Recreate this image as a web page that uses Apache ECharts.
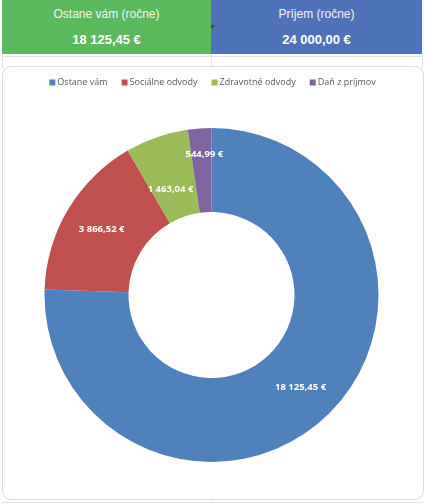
<!DOCTYPE html>
<html>
<head>
<meta charset="utf-8">
<script src="https://cdn.jsdelivr.net/npm/echarts@6/dist/echarts.min.js"></script>
<style>
html,body{margin:0;padding:0;width:425px;height:504px;background:#fff;overflow:hidden;font-family:"Liberation Sans",Arial,sans-serif;}
.box{position:absolute;top:0;height:54px;color:#fff;text-align:center;}
.box .t{position:absolute;left:0;right:0;top:7px;font-size:12px;color:#f2f2f2;}
.box .v{position:absolute;left:0;right:0;top:32px;font-size:13px;font-weight:bold;}
.line{position:absolute;background:#e3e3e3;}
#card{position:absolute;left:2px;top:66px;width:420px;height:432px;border:1px solid #dcdcdc;border-radius:9px;background:#fff;}
#chart{position:absolute;left:0;top:0;width:425px;height:504px;}
.tri{position:absolute;left:211px;top:25px;width:0;height:0;border-top:4px solid #1f6e2a;border-right:5px solid transparent;}
</style>
</head>
<body>
<div class="box" style="left:2px;width:209px;background:#5cb85c;"><div class="t">Ostane vám (ročne)</div><div class="v">18 125,45 €</div></div>
<div class="box" style="left:211px;width:211px;background:#4f73b9;"><div class="t">Príjem (ročne)</div><div class="v">24 000,00 €</div></div>
<div class="tri"></div>
<div class="line" style="left:2px;top:56px;width:421px;height:1px;"></div>
<div class="line" style="left:2px;top:54px;width:1px;height:14px;"></div>
<div class="line" style="left:211px;top:54px;width:1px;height:12px;"></div>
<div class="line" style="left:422px;top:54px;width:1px;height:14px;"></div>
<div class="line" style="left:211px;top:499px;width:1px;height:5px;"></div>
<div class="line" style="left:2px;top:502px;width:421px;height:1px;"></div>
<div id="card"></div>
<div id="chart"></div>
<script>
const categories = ['Ostane vám', 'Sociálne odvody', 'Zdravotné odvody', 'Daň z príjmov'];
const values = [18125.45, 3866.52, 1463.04, 544.99];
const colors = ['#4f81bd', '#c0504d', '#9bbb59', '#8064a2'];
const labelOffsets = [[0, 0], [0, 0], [1, 15], [2, -13]];

function fmt(v) {
  const parts = v.toFixed(2).split('.');
  const int = parts[0].replace(/\B(?=(\d{3})+(?!\d))/g, ' ');
  return int + ',' + parts[1] + ' €';
}

const chart = echarts.init(document.getElementById('chart'), null, {renderer: 'canvas'});
chart.setOption({
  animation: false,
  color: colors,
  legend: {
    top: 73,
    left: 'center',
    itemWidth: 6,
    itemHeight: 6,
    itemGap: 14,
    icon: 'rect',
    textStyle: {fontSize: 9, color: '#595959', fontFamily: 'Open Sans', padding: [0, 0, 0, -3]},
    data: categories
  },
  series: [{
    type: 'pie',
    center: [211.5, 295],
    radius: [83, 167],
    startAngle: 90,
    clockwise: true,
    avoidLabelOverlap: false,
    label: {
      show: true,
      position: 'inside',
      color: '#fff',
      fontSize: 9.5,
      fontWeight: 'bold',
      fontFamily: 'Open Sans',
      formatter: p => fmt(p.value)
    },
    labelLine: {show: false},
    emphasis: {disabled: true},
    data: categories.map((c, i) => ({
      name: c,
      value: values[i],
      label: {offset: labelOffsets[i]}
    }))
  }]
});
</script>
</body>
</html>
